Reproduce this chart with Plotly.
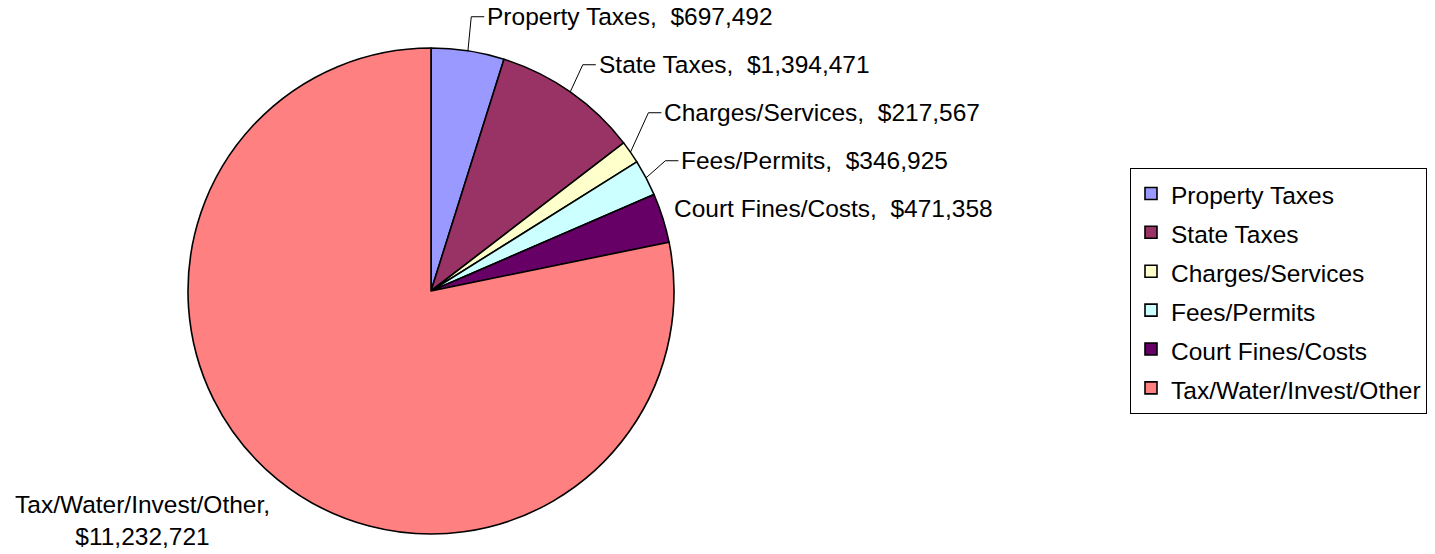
import math
import plotly.graph_objects as go

categories = ["Property Taxes", "State Taxes", "Charges/Services", "Fees/Permits",
              "Court Fines/Costs", "Tax/Water/Invest/Other"]
values = [697492, 1394471, 217567, 346925, 471358, 11232721]
colors = ["#9999FF", "#993366", "#FFFFCC", "#CCFFFF", "#660066", "#FF8080"]

W, H = 1435, 554
CX, CY, R = 431, 291, 243
FONT = "Arial, Liberation Sans, sans-serif"
FS = 24.5


def px(x, y):
    return x / W, 1 - y / H


def pt(theta, r):
    return CX + r * math.sin(theta), CY - r * math.cos(theta)


total = sum(values)
mids = []
cum = 0
for v in values:
    mids.append(2 * math.pi * (cum + v / 2) / total)
    cum += v


def lab(i):
    return f"{categories[i]},\u00a0 ${values[i]:,}"


fig = go.Figure()
fig.add_trace(go.Pie(
    labels=[f'<span style="font-size:{FS}px">{c}</span>' for c in categories],
    values=values, sort=False, direction="clockwise", rotation=0,
    marker=dict(colors=colors, line=dict(color="black", width=1.6)),
    textinfo="none", hoverinfo="label+value",
    domain=dict(x=[(CX - R) / W, (CX + R) / W], y=[1 - (CY + R) / H, 1 - (CY - R) / H]),
))

annotations = []
shapes = []
font = dict(family=FONT, size=FS, color="black")

# Court Fines label: close to the slice, no leader line
last = 4
cxp, cyp = pt(mids[last], R * 1.03)
prev_y = cyp - 7
ax, ay = px(cxp + 2, prev_y)
annotations.append(dict(x=ax, y=ay, xref="paper", yref="paper", text=lab(last),
                        showarrow=False, xanchor="left", yanchor="middle", font=font))

# other right-hand labels, pushed up to avoid overlaps, with leader lines
for i in range(last - 1, -1, -1):
    ex, ey = pt(mids[i], R * 1.09)
    ey = min(ey, prev_y - 48)
    prev_y = ey
    sx, sy = pt(mids[i], R)
    p0 = px(sx, sy)
    p1 = px(ex, ey)
    p2 = px(ex + 13, ey)
    shapes.append(dict(type="path", xref="paper", yref="paper",
                       path=f"M {p0[0]} {p0[1]} L {p1[0]} {p1[1]} L {p2[0]} {p2[1]}",
                       line=dict(color="black", width=1)))
    tx, ty = px(ex + 14, ey)
    annotations.append(dict(x=tx, y=ty, xref="paper", yref="paper", text=lab(i),
                            showarrow=False, xanchor="left", yanchor="middle", font=font))

# big slice label
bx, by = pt(mids[5], R * 1.065)
bxp, byp = px(bx, by)
annotations.append(dict(x=bxp, y=byp, xref="paper", yref="paper",
                        text=f"{categories[5]},<br>${values[5]:,}",
                        showarrow=False, xanchor="right", yanchor="top", align="center",
                        xshift=5, yshift=3, font=font))

fig.update_layout(
    width=W, height=H,
    margin=dict(l=0, r=0, t=0, b=0),
    paper_bgcolor="white", plot_bgcolor="white",
    showlegend=True,
    legend=dict(x=1130 / W, y=1 - 168 / H, xanchor="left", yanchor="top",
                bordercolor="black", borderwidth=1, bgcolor="white",
                font=dict(family=FONT, size=27.6, color="black")),
    annotations=annotations, shapes=shapes,
)

fig.write_html("out.html", config={"displayModeBar": False},
               post_script="document.body.style.margin='0';")
